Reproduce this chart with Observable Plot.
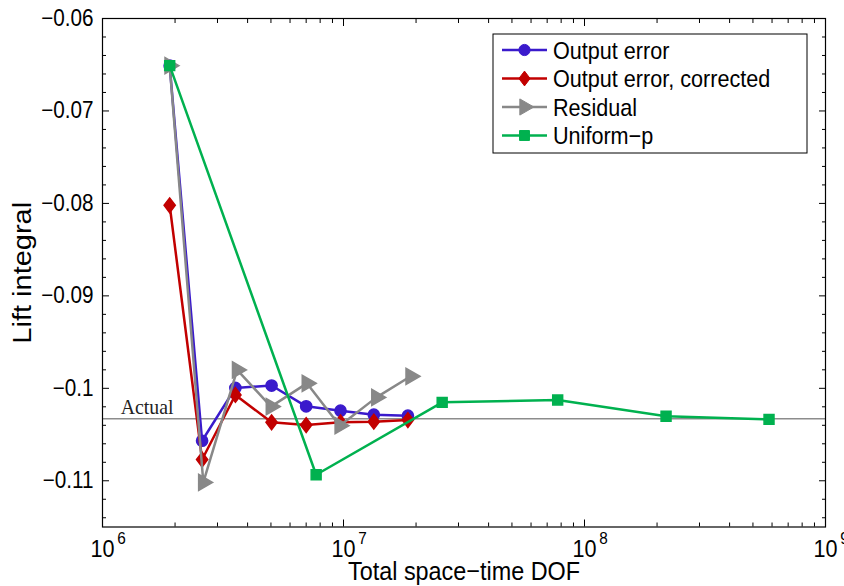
<!DOCTYPE html>
<html>
<head>
<meta charset="utf-8">
<script src="https://cdn.jsdelivr.net/npm/d3@7"></script>
<script src="https://cdn.jsdelivr.net/npm/@observablehq/plot@0.6"></script>
<style>
  html, body { margin: 0; padding: 0; background: #fff; }
  #chart { width: 844px; height: 586px; overflow: hidden; }
</style>
</head>
<body>
<div id="chart"></div>
<script>
// Lift integral versus total space-time degrees of freedom for each adaptation strategy
const dofOutput = [1.90e6, 2.59e6, 3.56e6, 5.03e6, 7.00e6, 9.72e6, 1.336e7, 1.85e7];
const liftOutput = [-0.0651, -0.10567, -0.09996, -0.0997, -0.10195, -0.10242, -0.10285, -0.10296];
const liftCorrected = [-0.0802, -0.1077, -0.10072, -0.10368, -0.10397, -0.10368, -0.10361, -0.10343];
const dofResidual = [1.90e6, 2.62e6, 3.62e6, 5.00e6, 7.05e6, 9.65e6, 1.37e7, 1.90e7];
const liftResidual = [-0.0651, -0.11018, -0.09801, -0.10198, -0.09946, -0.10404, -0.10098, -0.0987];
const dofUniform = [1.90e6, 7.70e6, 2.567e7, 7.74e7, 2.18e8, 5.83e8];
const liftUniform = [-0.0651, -0.10935, -0.10152, -0.10126, -0.10303, -0.10336];
const liftActual = -0.1033;

const seriesNames = ["Output error", "Output error, corrected", "Residual", "Uniform\u2212p"];

// Axis ticks
const xMajorTicks = [1e6, 1e7, 1e8, 1e9];
const xExponents = ["6", "7", "8", "9"];
const yMajorTicks = [-0.11, -0.1, -0.09, -0.08, -0.07, -0.06];
const yTickLabels = ["\u22120.11", "\u22120.1", "\u22120.09", "\u22120.08", "\u22120.07", "\u22120.06"];
const xMinorTicks = [1e6, 1e7, 1e8].flatMap(d => [2, 3, 4, 5, 6, 7, 8, 9].map(m => m * d));
const yMinorTicks = d3.range(-114, -60, 2).filter(v => v % 10 !== 0).map(v => v / 1000);

const colors = {
  output: "#3a1acc",
  corrected: "#c20000",
  residual: "#888888",
  uniform: "#00b14f"
};

// Diamond a little taller than wide
const diamond = {
  draw(context, size) {
    const s = Math.sqrt(size / Math.PI);
    const h = s * 1.12, w = s * 0.85;
    context.moveTo(0, -h);
    context.lineTo(w, 0);
    context.lineTo(0, h);
    context.lineTo(-w, 0);
    context.closePath();
  }
};

const table = (xs, ys) => xs.map((x, i) => ({x, y: ys[i]}));
const tOutput = table(dofOutput, liftOutput);
const tCorrected = table(dofOutput, liftCorrected);
const tResidual = table(dofResidual, liftResidual);
const tUniform = table(dofUniform, liftUniform);

const LW = 2.5;
const font = "'Liberation Sans', Arial, Helvetica, sans-serif";
const markerR = {output: 5.6, corrected: 6.6, residual: 6, uniform: 5.6};
const narrow = 0.9; // horizontal squeeze of the lettering

const chart = Plot.plot({
  width: 844,
  height: 586,
  marginLeft: 102,
  marginRight: 19,
  marginTop: 18,
  marginBottom: 59.5,
  style: {fontFamily: font, background: "white", color: "black"},
  x: {type: "log", domain: [1e6, 1e9], axis: null},
  y: {domain: [-0.115, -0.06], axis: null},
  marks: [
    // reference value
    Plot.ruleY([liftActual], {stroke: "#8c8c8c", strokeWidth: 1.5}),
    Plot.text(["Actual"], {x: 1.19e6, y: liftActual, dy: -5, lineAnchor: "bottom", textAnchor: "start",
      fontFamily: "'Liberation Serif', 'Times New Roman', serif", fontSize: 22, fill: "#222"}),

    // series
    Plot.line(tOutput, {x: "x", y: "y", stroke: colors.output, strokeWidth: LW}),
    Plot.dot(tOutput, {x: "x", y: "y", symbol: "circle", r: markerR.output, fill: colors.output, stroke: colors.output}),
    Plot.line(tCorrected, {x: "x", y: "y", stroke: colors.corrected, strokeWidth: LW}),
    Plot.dot(tCorrected, {x: "x", y: "y", symbol: diamond, r: markerR.corrected, fill: colors.corrected, stroke: colors.corrected}),
    Plot.line(tResidual, {x: "x", y: "y", stroke: colors.residual, strokeWidth: LW}),
    Plot.dot(tResidual, {x: "x", y: "y", symbol: "triangle", rotate: 90, r: markerR.residual, fill: colors.residual, stroke: colors.residual}),
    Plot.line(tUniform, {x: "x", y: "y", stroke: colors.uniform, strokeWidth: LW}),
    Plot.dot(tUniform, {x: "x", y: "y", symbol: "square", r: markerR.uniform, fill: colors.uniform, stroke: colors.uniform}),

    // box and inward ticks on all four sides
    Plot.frame({stroke: "black", strokeWidth: 1.2}),
    ...["bottom", "top"].flatMap(anchor => [
      Plot.axisX({ticks: xMajorTicks, anchor, tickSize: -7, fill: "none", label: null}),
      Plot.axisX({ticks: xMinorTicks, anchor, tickSize: -4, fill: "none", label: null})
    ]),
    ...["left", "right"].flatMap(anchor => [
      Plot.axisY({ticks: yMajorTicks, anchor, tickSize: -7, fill: "none", label: null}),
      Plot.axisY({ticks: yMinorTicks, anchor, tickSize: -4, fill: "none", label: null})
    ]),

    // tick labels
    Plot.axisY({ticks: yMajorTicks, anchor: "left", tickSize: 0, tickPadding: 9, fontSize: 23,
      tickFormat: d => yTickLabels[yMajorTicks.indexOf(d)], label: null}),
    Plot.axisX({ticks: xMajorTicks, anchor: "bottom", tickSize: 0, tickPadding: 13, fontSize: 24,
      tickFormat: () => "10", label: null}),
    Plot.axisX({ticks: xMajorTicks, anchor: "bottom", tickSize: 0, tickPadding: 5, fontSize: 17,
      dx: 19, tickFormat: d => xExponents[xMajorTicks.indexOf(d)], label: null}),

    // axis titles
    Plot.text(["Total space\u2212time DOF"], {frameAnchor: "bottom", dy: 53, lineAnchor: "bottom", textAnchor: "middle", fontSize: 26}),
    Plot.text(["Lift integral"], {frameAnchor: "left", dx: -80, rotate: -90, textAnchor: "middle", fontSize: 29})
  ]
});

document.getElementById("chart").appendChild(chart);

// Narrow every label about its own anchor point
d3.select(chart).selectAll("text").each(function() {
  const t = this.getAttribute("transform");
  let base = t;
  if (!base) {
    const x = +(this.getAttribute("x") || 0), y = +(this.getAttribute("y") || 0);
    this.removeAttribute("x");
    this.removeAttribute("y");
    base = `translate(${x},${y})`;
  }
  const rotated = /rotate\(\s*-?9/.test(base);
  this.setAttribute("transform", `${base} ${rotated ? `scale(1,${narrow})` : `scale(${narrow},1)`}`);
});

// Legend box in the upper right of the axes
const svg = d3.select(chart);
const legend = svg.append("g").attr("class", "legend").attr("text-anchor", "start");
const lx = 493, ly = 34, lw = 314, lh = 119;
legend.append("rect").attr("x", lx).attr("y", ly).attr("width", lw).attr("height", lh)
  .attr("fill", "white").attr("stroke", "black").attr("stroke-width", 1);

const legendSymbols = [
  {color: colors.output, sym: d3.symbolCircle, r: markerR.output, rot: 0},
  {color: colors.corrected, sym: diamond, r: markerR.corrected, rot: 0},
  {color: colors.residual, sym: d3.symbolTriangle, r: markerR.residual, rot: 90},
  {color: colors.uniform, sym: d3.symbolSquare, r: markerR.uniform, rot: 0}
];
seriesNames.forEach((name, i) => {
  const cy = 50 + i * 28.5;
  const s = legendSymbols[i];
  legend.append("line").attr("x1", 502).attr("x2", 547).attr("y1", cy).attr("y2", cy)
    .attr("stroke", s.color).attr("stroke-width", LW);
  legend.append("path")
    .attr("d", d3.symbol(s.sym, Math.PI * s.r * s.r)())
    .attr("transform", `translate(524.5,${cy}) rotate(${s.rot})`)
    .attr("fill", s.color).attr("stroke", s.color);
  legend.append("text").attr("transform", `translate(553,${cy}) scale(${narrow},1)`).attr("dy", "0.36em")
    .attr("text-anchor", "start")
    .attr("font-family", font).attr("font-size", 24).attr("fill", "black").text(name);
});
</script>
</body>
</html>
